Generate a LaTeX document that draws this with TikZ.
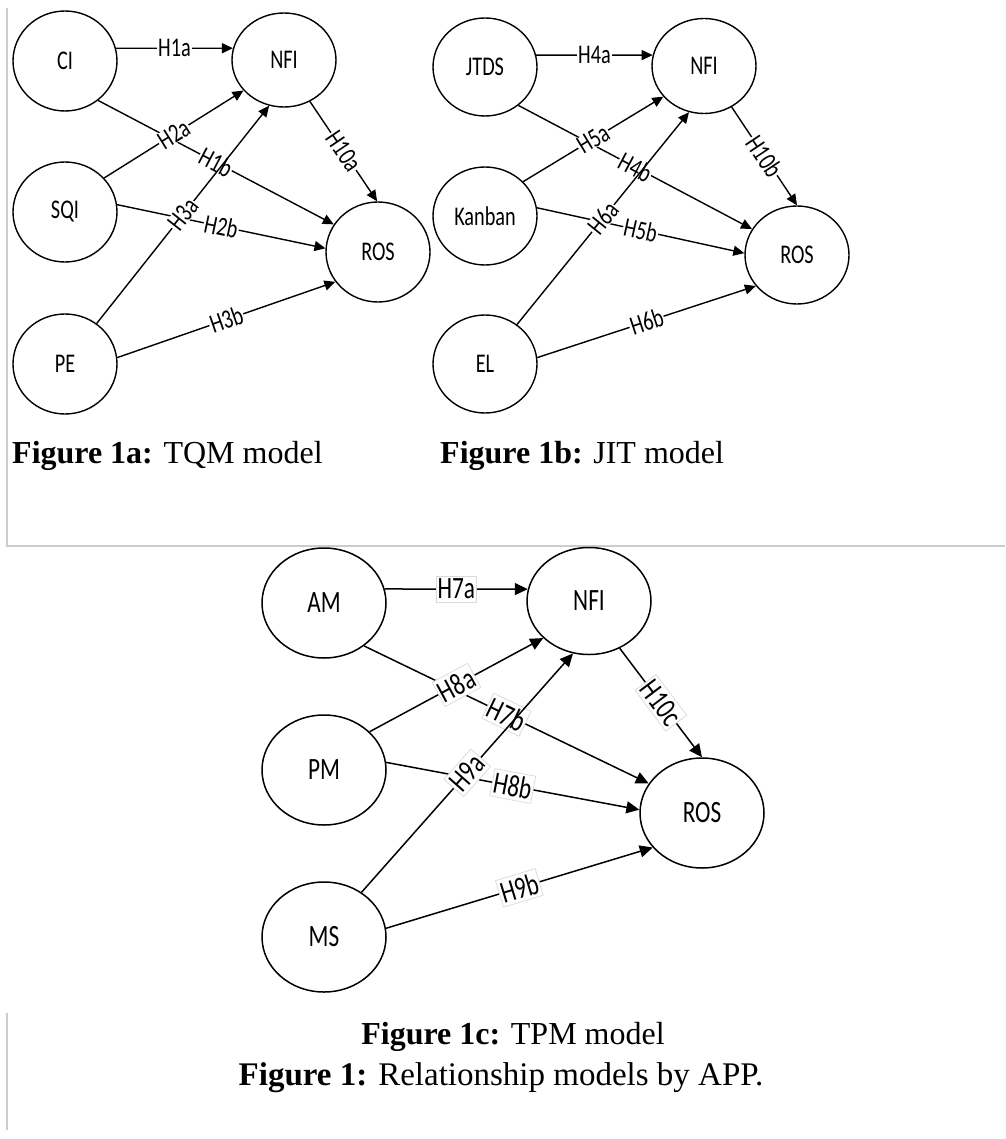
\documentclass[tikz,border=0pt]{standalone}
\usepackage{fontspec}
\setmainfont{Liberation Serif}
\newfontfamily\lab{Carlito}[FakeStretch=0.75]
\usetikzlibrary{shapes.geometric,arrows.meta}
\tikzset{
  ell/.style={ellipse, draw, line width=1.4pt, inner sep=0pt, minimum width=104pt, minimum height=100pt, font=\lab\fontsize{27}{30}\selectfont},
  ellc/.style={ellipse, draw, line width=1.5pt, inner sep=0pt, minimum width=124pt, minimum height=110pt, font=\lab\fontsize{31}{34}\selectfont},
  conn/.style={line width=1.4pt, -{Triangle[length=11pt,width=10pt]}},
  connc/.style={line width=1.5pt, -{Triangle[length=13pt,width=12pt]}},
  lbl/.style={fill=white, inner xsep=1pt, inner ysep=0pt, font=\lab\fontsize{27}{30}\selectfont},
  lblc/.style={fill=white, draw=black!15, line width=0.7pt, inner xsep=1.5pt, inner ysep=3pt, font=\lab\fontsize{31}{34}\selectfont},
  frameline/.style={draw=black!20, line width=1.5pt},
  captext/.style={font=\fontsize{32}{36}\selectfont, inner sep=0pt, anchor=base west}
}
\begin{document}
\begin{tikzpicture}[x=1pt, y=-1pt]
\useasboundingbox (0,0) rectangle (1005,1139);
% frame lines
\draw[frameline] (7,8) -- (7,546) -- (1005,546);
\draw[frameline] (7,1013) -- (7,1130);

% Figure 1a
\node[ell] (aCI) at (65,61) {CI};
\node[ell, minimum height=94pt] (aNFI) at (284,60) {NFI};
\node[ell] (aSQI) at (65,212) {SQI};
\node[ell] (aROS) at (378,252) {ROS};
\node[ell] (aPE) at (65,364) {PE};
\draw[conn] (aCI.14) -- node[lbl]{H1a} (aNFI.167);
\draw[conn] (aCI.-50) -- node[lbl,sloped]{H1b} (aROS.148);
\draw[conn] (aSQI.41) -- node[lbl,sloped]{H2a} (aNFI.217);
\draw[conn] (aSQI.8) -- node[lbl,sloped]{H2b} (aROS.176);
\draw[conn] (aPE.52) -- node[lbl,sloped]{H3a} (aNFI.252);
\draw[conn] (aPE.7) -- node[lbl,sloped]{H3b} (aROS.215);
\draw[conn] (aNFI.-58) -- node[lbl,sloped]{H10a} (aROS.91);

% Figure 1b
\node[ell, minimum height=98pt] (bJTDS) at (485,67) {JTDS};
\node[ell, minimum height=95pt] (bNFI) at (704,66) {NFI};
\node[ell, minimum height=98pt] (bK) at (485,216) {Kanban};
\node[ell, minimum height=98pt] (bROS) at (797,255) {ROS};
\node[ell, minimum height=98pt] (bEL) at (485,364) {EL};
\draw[conn] (bJTDS.13) -- node[lbl]{H4a} (bNFI.168);
\draw[conn] (bJTDS.-49) -- node[lbl,sloped]{H4b} (bROS.150);
\draw[conn] (bK.42) -- node[lbl,sloped]{H5a} (bNFI.217);
\draw[conn] (bK.9) -- node[lbl,sloped]{H5b} (bROS.178);
\draw[conn] (bEL.51) -- node[lbl,sloped]{H6a} (bNFI.252);
\draw[conn] (bEL.7) -- node[lbl,sloped]{H6b} (bROS.217);
\draw[conn] (bNFI.-56) -- node[lbl,sloped]{H10b} (bROS.90);

% Figure 1c
\node[ellc] (cAM) at (324,603) {AM};
\node[ellc, minimum height=107pt] (cNFI) at (589,601) {NFI};
\node[ellc] (cPM) at (324,770) {PM};
\node[ellc] (cROS) at (702,813) {ROS};
\node[ellc] (cMS) at (324,937) {MS};
\draw[connc] (cAM.13) -- node[lblc]{H7a} (cNFI.169);
\draw[connc] (cAM.-47) -- node[lblc,sloped]{H7b} (cROS.151);
\draw[connc] (cPM.40) -- node[lblc,sloped]{H8a} (cNFI.219);
\draw[connc] (cPM.7) -- node[lblc,sloped]{H8b} (cROS.177);
\draw[connc] (cMS.50) -- node[lblc,sloped]{H9a} (cNFI.253);
\draw[connc] (cMS.8) -- node[lblc,sloped]{H9b} (cROS.215);
\draw[connc] (cNFI.-57) -- node[lblc,sloped]{H10c} (cROS.90);

% captions
\node[captext] (capA) at (12,463) {\textbf{Figure 1a:} TQM model};
\node[captext] (capB) at (440,463) {\textbf{Figure 1b:} JIT model};
\node[captext, anchor=base] (capC) at (513,1044) {\textbf{Figure 1c:} TPM model};
\node[captext, anchor=base, font=\fontsize{33}{37}\selectfont] (capF) at (501,1085) {\textbf{Figure 1:} Relationship models by APP.};
\end{tikzpicture}
\end{document}
